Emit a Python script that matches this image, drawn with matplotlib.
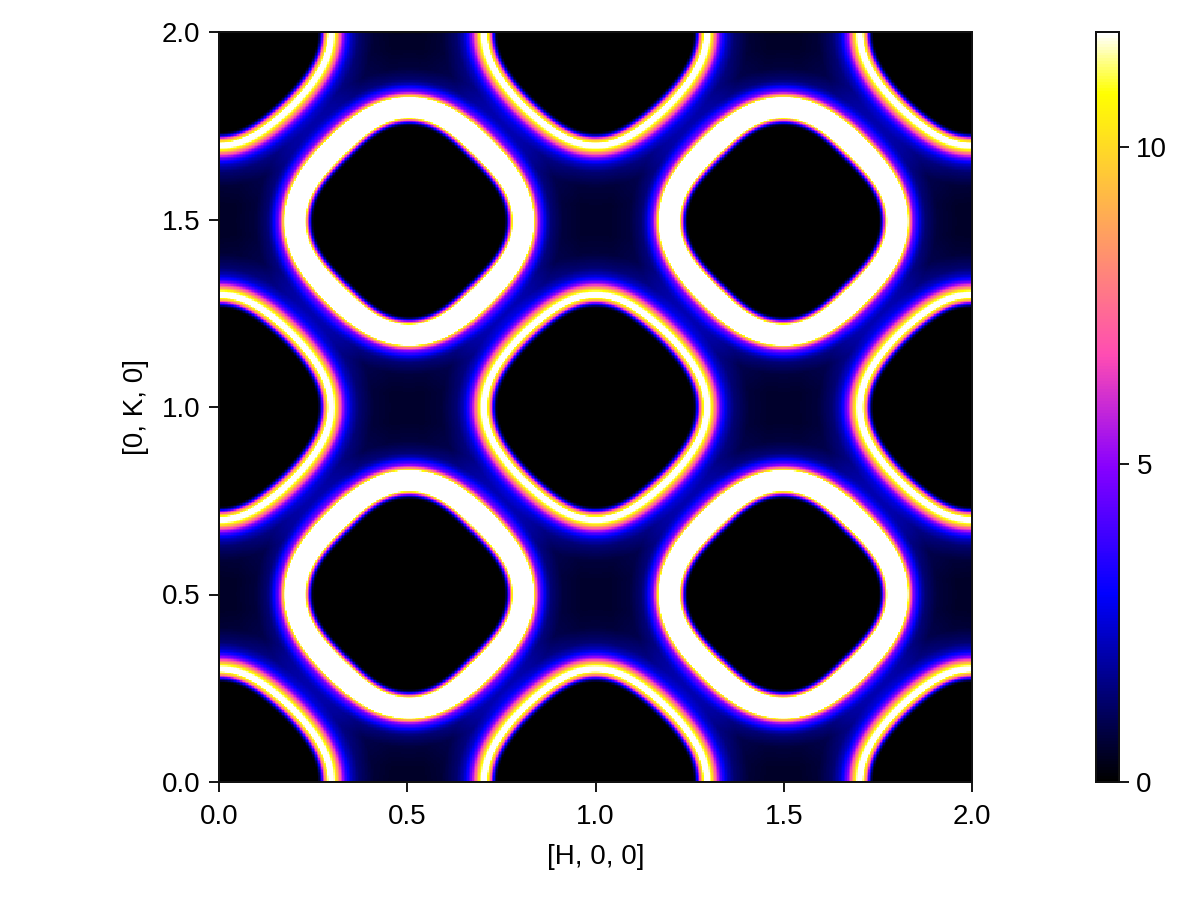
import numpy as np
import matplotlib
matplotlib.use("Agg")
import matplotlib.pyplot as plt

plt.rcParams['font.family'] = ['Liberation Sans', 'DejaVu Sans']

# Ring centres on the [H, K] plane
thin_centers_h = [0, 0, 0, 1, 1, 1, 2, 2, 2]
thin_centers_k = [0, 1, 2, 0, 1, 2, 0, 1, 2]
thick_centers_h = [0.504, 0.504, 1.5, 1.5]
thick_centers_k = [0.5, 1.497, 0.5, 1.497]

# Ridge radii, by polar angle from the +H axis
angles_deg = [0, 15, 30, 45, 60, 75, 90]
thick_white_in = [0.277, 0.270, 0.256, 0.250, 0.256, 0.271, 0.277]
thick_white_out = [0.330, 0.325, 0.312, 0.307, 0.312, 0.325, 0.330]
thin_white_in = [0.290, 0.284, 0.272, 0.268, 0.272, 0.286, 0.294]
thin_white_out = [0.302, 0.296, 0.283, 0.279, 0.283, 0.298, 0.305]

# Intensity against distance from the saturated band (pixels)
thick_inner_px = [0, 1, 2, 3, 4, 5, 6, 7, 8, 9]
thick_inner_val = [12, 10.9, 8.5, 6.5, 5, 3.5, 2, 0.9, 0.3, 0]
thick_outer_px = [0, 1, 2, 3, 4, 5, 7, 10, 14, 18, 30, 50, 80, 140]
thick_outer_val = [12, 10.5, 9, 7.5, 6.3, 5.3, 4, 3, 1.7, 1.0, 0.35, 0.12, 0.05, 0.02]
thin_inner_px = [0, 1, 3, 4, 5, 6, 7, 8, 9, 10, 11]
thin_inner_val = [12, 10.9, 9, 7.5, 6, 4.5, 3.2, 2, 1, 0.4, 0]
thin_outer_px = [0, 1, 2, 3, 4, 5.5, 7, 9, 11, 14, 18, 25, 40, 60, 90, 140]
thin_outer_val = [12, 11.3, 10.8, 10.2, 9.3, 8, 6.8, 5.5, 4.3, 3, 1.9, 1.0, 0.32, 0.12, 0.05, 0.02]

colorbar_ticks = [0, 5, 10]
main_ticks = [0.0, 0.5, 1.0, 1.5, 2.0]
vmin, vmax = 0, 11.81
PX = 1 / 376.0
W, H = 1200, 900
FS = 20

h = np.linspace(0, 2, 500)
k = np.linspace(0, 2, 500)
HH, KK = np.meshgrid(h, k)
field = np.zeros_like(HH)
inside_masks = []


def smooth_radius(theta_deg, radii):
    """Smooth curve through the measured radii, flat at the axes, no kinks."""
    basis = lambda t: np.stack([np.cos(n * np.radians(t)) for n in (0, 2, 4, 6, 8)], axis=-1)
    coef, *_ = np.linalg.lstsq(basis(np.array(angles_deg, float)), np.array(radii), rcond=None)
    return basis(theta_deg) @ coef


def add_rings(ch, ck, w_in, w_out, in_px, in_val, out_px, out_val):
    global field
    for c_h, c_k in zip(ch, ck):
        dx, dy = HH - c_h, KK - c_k
        r = np.hypot(dx, dy)
        theta = np.degrees(np.arctan2(np.abs(dy), np.abs(dx)))
        ri = smooth_radius(theta, w_in)
        ro = smooth_radius(theta, w_out)
        outer = np.interp((r - ro) / PX, out_px, out_val)
        inner = np.interp((ri - r) / PX, in_px, in_val)
        band = (r >= ri) & (r <= ro)
        outer[r < ro] = 0
        field += outer
        field[band] = 13
        inside_masks.append((r < ri, inner))


add_rings(thick_centers_h, thick_centers_k, thick_white_in, thick_white_out,
          thick_inner_px, thick_inner_val, thick_outer_px, thick_outer_val)
add_rings(thin_centers_h, thin_centers_k, thin_white_in, thin_white_out,
          thin_inner_px, thin_inner_val, thin_outer_px, thin_outer_val)
for mask, inner in inside_masks:
    field[mask] = inner[mask]

fig = plt.figure(figsize=(W / 100, H / 100), dpi=100)
ax = fig.add_axes([219 / W, (H - 782) / H, 753 / W, 750 / H])
mesh = ax.imshow(field, origin='lower', extent=[0, 2, 0, 2], aspect='auto',
                 cmap='gnuplot2', vmin=vmin, vmax=vmax, interpolation='nearest')
ax.set_xlim(0, 2)
ax.set_ylim(0, 2)
ax.set_xticks(main_ticks, [f"{t:.1f}" for t in main_ticks])
ax.set_yticks(main_ticks, [f"{t:.1f}" for t in main_ticks])
ax.tick_params(axis='x', direction='out', length=7.5, width=1.44, labelsize=FS, pad=8.5, color='#1a1a1a')
ax.tick_params(axis='y', direction='out', length=7.5, width=1.44, labelsize=FS, pad=6, color='#1a1a1a')
ax.set_xlabel('[H, 0, 0]', fontsize=FS, labelpad=10)
ax.set_ylabel('[0, K, 0]', fontsize=FS, labelpad=9)
for s in ax.spines.values():
    s.set_linewidth(1.44)
    s.set_color('#111111')

cax = fig.add_axes([1096 / W, (H - 782) / H, 23 / W, 750 / H])
cb = fig.colorbar(mesh, cax=cax)
cb.set_ticks(colorbar_ticks)
cax.tick_params(direction='out', length=7.5, width=1.44, labelsize=FS, pad=5, color='#1a1a1a')
cb.outline.set_linewidth(1.44)
cb.outline.set_edgecolor('#111111')

fig.savefig('out.png', dpi=100)
